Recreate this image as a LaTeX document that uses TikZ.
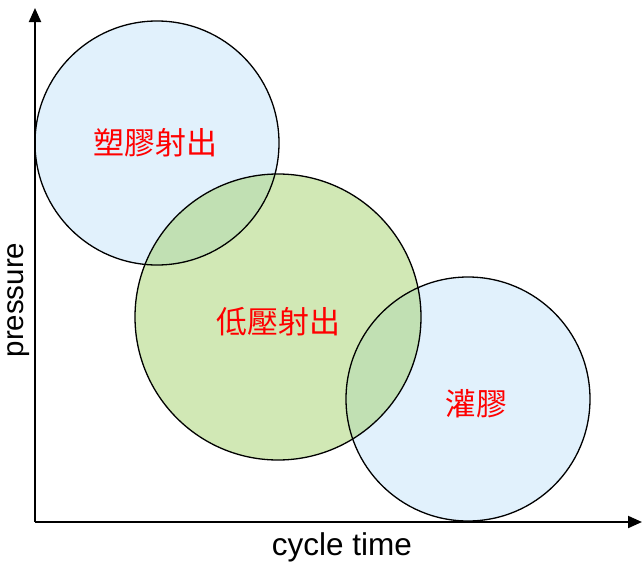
\documentclass[tikz,border=0pt]{standalone}
\usepackage{fontspec}
\setmainfont{Liberation Sans}
\newfontfamily\cjk{Noto Sans CJK TC}
\usetikzlibrary{arrows.meta}
\definecolor{bluefill}{RGB}{225,241,252}
\definecolor{greenfill}{RGB}{163,209,107}
\definecolor{labred}{RGB}{255,0,0}
\tikzset{
  axisline/.style={line width=2pt, -{Triangle[width=12pt,length=14pt]}},
  ring/.style={draw=black, line width=1.3pt},
  phase/.style={font=\cjk\fontsize{31}{34}\selectfont, text=labred},
  axislabel/.style={text=black}
}
\begin{document}
\begin{tikzpicture}[x=1pt,y=-1pt]
\useasboundingbox (0,0) rectangle (643,565);
% circles (fills)
\fill[bluefill] (157,143) circle (122);
\fill[bluefill] (468,399) circle (122);
\fill[greenfill, fill opacity=0.5] (278,317) circle (143);
% outlines
\draw[ring] (157,143) circle (122);
\draw[ring] (468,399) circle (122);
\draw[ring] (278,317) circle (143);
% axes
\coordinate (origin) at (35,522);
\coordinate (ytop) at (35,8);
\coordinate (xend) at (642,522);
\draw[axisline] (origin) -- (ytop);
\draw[axisline] (origin) -- (xend);
% labels
\node[phase] (p1) at (155,143) {塑膠射出};
\node[phase] (p2) at (278,322) {低壓射出};
\node[phase] (p3) at (476,404) {灌膠};
\node[axislabel, rotate=90, font=\fontsize{29.5}{32}\selectfont] (ylab) at (19,300) {pressure};
\node[axislabel, font=\fontsize{31.5}{34}\selectfont] (xlab) at (342,547) {cycle time};
\end{tikzpicture}
\end{document}
